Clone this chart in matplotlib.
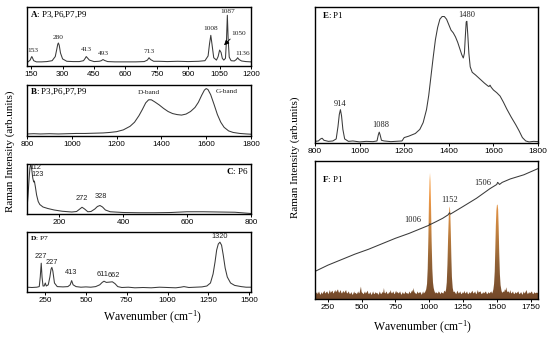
import numpy as np
import matplotlib
matplotlib.use("Agg")
import matplotlib.pyplot as plt
from matplotlib.colors import LinearSegmentedColormap

plt.rcParams['mathtext.fontset'] = 'custom'
plt.rcParams['mathtext.rm'] = 'Liberation Serif'
plt.rcParams['mathtext.bf'] = 'Liberation Serif:bold'
plt.rcParams['mathtext.it'] = 'Liberation Serif:italic'

SERIF = 'Liberation Serif'
SANS = 'Liberation Sans'

# ---------------- data ----------------
a_spec = [(135,0.07),(145,0.10),(150,0.14),(153,0.16),(156,0.14),(162,0.09),(175,0.07),(200,0.07),
          (225,0.075),(250,0.09),(265,0.16),(272,0.28),(277,0.37),(280,0.39),(284,0.35),(290,0.22),
          (300,0.12),(320,0.08),(350,0.075),(380,0.075),(400,0.09),(408,0.13),(413,0.16),(418,0.14),
          (428,0.10),(450,0.075),(475,0.08),(485,0.09),(493,0.11),(500,0.095),(515,0.075),(550,0.07),
          (600,0.07),(650,0.07),(690,0.075),(705,0.10),(713,0.14),(720,0.11),(735,0.08),(760,0.08),
          (800,0.075),(850,0.08),(900,0.075),(950,0.08),(980,0.09),(995,0.17),(1002,0.38),(1008,0.52),
          (1014,0.36),(1022,0.14),(1035,0.10),(1043,0.16),(1050,0.27),(1057,0.23),(1063,0.13),
          (1070,0.10),(1078,0.13),(1083,0.45),(1087,0.86),(1091,0.45),(1096,0.15),(1105,0.09),
          (1120,0.085),(1130,0.11),(1136,0.14),(1143,0.11),(1155,0.085),(1175,0.075),(1200,0.07)]
a_ticks = [150, 300, 450, 600, 750, 900, 1050, 1200]
a_labels = [("153",160,0.27),("280",280,0.48),("413",412,0.28),("493",495,0.22),("713",713,0.24),
            ("1008",1005,0.63),("1087",1089,0.93),("1136",1162,0.21)]

b_spec = [(800,0.04),(830,0.045),(860,0.04),(900,0.045),(940,0.04),(980,0.045),(1020,0.05),
          (1060,0.05),(1100,0.055),(1140,0.06),(1170,0.07),(1200,0.085),(1230,0.12),(1260,0.19),
          (1280,0.27),(1300,0.40),(1315,0.52),(1330,0.65),(1343,0.71),(1355,0.71),(1370,0.67),
          (1390,0.61),(1410,0.54),(1430,0.48),(1450,0.44),(1470,0.42),(1490,0.41),(1510,0.43),
          (1530,0.48),(1550,0.56),(1565,0.66),(1580,0.80),(1592,0.90),(1600,0.93),(1608,0.91),
          (1620,0.81),(1635,0.62),(1650,0.42),(1665,0.27),(1680,0.17),(1700,0.10),(1720,0.07),
          (1750,0.05),(1780,0.04),(1800,0.035)]
b_ticks = [800, 1000, 1200, 1400, 1600, 1800]
b_labels = [("D-band",1345,0.86),("G-band",1693,0.88)]

c_spec = [(100,0.12),(103,0.35),(106,0.65),(109,0.92),(112,1.0),(115,0.88),(118,0.72),(121,0.64),
          (123,0.66),(126,0.55),(130,0.38),(135,0.25),(140,0.19),(150,0.14),(165,0.11),(185,0.08),
          (210,0.055),(240,0.04),(255,0.05),(265,0.10),(272,0.135),(280,0.10),(290,0.045),
          (300,0.05),(312,0.10),(320,0.15),(328,0.17),(336,0.14),(345,0.08),(360,0.045),(400,0.03),
          (450,0.025),(500,0.025),(550,0.03),(600,0.045),(650,0.045),(700,0.04),(750,0.035),(800,0.01)]
c_ticks = [200, 400, 600, 800]
c_labels = [("112",126,0.93),("123",132,0.78),("272",272,0.32),("328",330,0.36)]

d_spec = [(140,0.08),(170,0.075),(200,0.08),(215,0.09),(221,0.25),(227,0.48),(232,0.25),(238,0.1),
          (245,0.1),(252,0.15),(258,0.1),(270,0.12),(280,0.25),(287,0.38),(292,0.41),(298,0.35),
          (308,0.15),(325,0.09),(360,0.085),(390,0.09),(404,0.12),(413,0.19),(422,0.12),(440,0.09),
          (470,0.08),(500,0.085),(530,0.08),(560,0.09),(585,0.12),(600,0.16),(611,0.18),(625,0.16),
          (645,0.165),(662,0.17),(678,0.14),(695,0.09),(720,0.075),(760,0.08),(800,0.07),(850,0.075),
          (900,0.07),(950,0.08),(1000,0.075),(1050,0.07),(1080,0.08),(1100,0.09),(1130,0.075),
          (1170,0.08),(1210,0.085),(1240,0.1),(1262,0.15),(1278,0.3),(1290,0.5),(1300,0.7),
          (1310,0.8),(1320,0.83),(1330,0.78),(1340,0.62),(1352,0.4),(1365,0.25),(1385,0.15),
          (1410,0.11),(1450,0.09),(1480,0.08),(1510,0.08)]
d_ticks = [250, 500, 750, 1000, 1250, 1500]
d_labels = [("227",225,0.59),("227",294,0.49),("413",409,0.33),("611",603,0.30),("662",673,0.28),
            ("1320",1320,0.93)]

e_spec = [(800,0.012),(815,0.015),(825,0.03),(832,0.035),(840,0.02),(860,0.012),(880,0.015),
          (895,0.03),(903,0.12),(909,0.21),(914,0.245),(919,0.2),(925,0.1),(933,0.03),(950,0.012),
          (970,0.015),(1000,0.008),(1030,0.012),(1060,0.01),(1078,0.015),(1084,0.06),(1088,0.08),
          (1092,0.06),(1098,0.02),(1110,0.015),(1140,0.01),(1170,0.013),(1190,0.015),(1200,0.04),
          (1220,0.05),(1250,0.07),(1270,0.1),(1285,0.15),(1300,0.245),(1310,0.35),(1320,0.49),
          (1330,0.63),(1340,0.76),(1350,0.85),(1360,0.91),(1370,0.93),(1380,0.93),(1390,0.91),
          (1400,0.87),(1410,0.83),(1420,0.81),(1430,0.78),(1440,0.74),(1450,0.69),(1458,0.65),
          (1465,0.625),(1470,0.66),(1474,0.78),(1478,0.89),(1481,0.895),(1485,0.8),(1490,0.66),
          (1496,0.56),(1505,0.52),(1520,0.5),(1540,0.47),(1560,0.44),(1575,0.42),(1580,0.415),
          (1585,0.425),(1590,0.41),(1600,0.39),(1615,0.37),(1630,0.345),(1645,0.3),(1660,0.25),
          (1680,0.19),(1700,0.135),(1715,0.09),(1730,0.04),(1745,0.015),(1760,0.008),(1780,0.012),
          (1800,0.01)]
e_ticks = [800, 1000, 1200, 1400, 1600, 1800]
e_labels = [("914",914,0.29),("1088",1096,0.135),("1480",1482,0.94)]

f_line = [(155,0.2),(250,0.245),(350,0.285),(450,0.325),(550,0.36),(650,0.4),(750,0.44),
          (850,0.475),(950,0.515),(1000,0.535),(1004,0.545),(1008,0.54),(1050,0.56),(1100,0.585),
          (1140,0.61),(1150,0.625),(1156,0.615),(1165,0.62),(1250,0.67),(1350,0.73),(1450,0.8),
          (1500,0.83),(1506,0.845),(1512,0.84),(1520,0.83),(1540,0.845),(1600,0.87),(1700,0.9),
          (1805,0.945)]
f_spec = [(155,.03),(160,.055),(165,.04),(170,.05),(175,.035),(185,.055),(190,.04),(195,.03),
          (205,.05),(210,.035),(215,.045),(225,.06),(230,.04),(235,.045),(245,.055),(255,.035),
          (260,.05),(265,.065),(270,.045),(275,.05),(285,.06),(290,.04),(295,.045),(305,.065),
          (310,.05),(315,.055),(325,.07),(330,.05),(335,.045),(345,.065),(350,.045),(355,.04),
          (365,.06),(370,.045),(375,.05),(385,.065),(390,.045),(395,.04),(405,.055),(410,.04),
          (415,.035),(425,.05),(430,.035),(435,.03),(445,.055),(450,.04),(455,.045),(465,.035),
          (475,.055),(480,.04),(485,.045),(495,.09),(500,.05),(505,.045),(515,.035),(525,.055),
          (530,.04),(535,.045),(545,.06),(550,.04),(555,.035),(565,.05),(570,.035),(575,.03),
          (585,.055),(590,.04),(595,.035),(605,.05),(610,.04),(615,.045),(625,.03),(635,.055),
          (640,.04),(645,.035),(655,.05),(660,.045),(665,.08),(670,.045),(675,.04),(685,.055),
          (690,.04),(695,.035),(705,.05),(710,.045),(715,.065),(720,.045),(725,.04),(735,.055),
          (740,.04),(745,.035),(755,.06),(760,.045),(765,.05),(775,.04),(785,.055),(790,.04),
          (795,.03),(805,.05),(810,.04),(815,.035),(825,.055),(830,.04),(835,.045),(845,.035),
          (855,.055),(860,.04),(865,.045),(875,.065),(880,.05),(885,.08),(890,.05),(895,.045),
          (905,.035),(915,.055),(920,.04),(925,.045),(935,.05),(940,.04),(945,.03),(955,.055),
          (960,.04),(965,.045),(972,.055),(978,.07),(984,.11),(989,.22),(994,.45),(998,.7),
          (1002,.86),(1006,.915),(1010,.85),(1014,.65),(1018,.42),(1023,.22),(1028,.12),(1033,.08),
          (1038,.06),(1045,.04),(1050,.05),(1055,.045),(1065,.04),(1070,.055),(1075,.05),
          (1085,.035),(1090,.05),(1095,.045),(1105,.04),(1110,.055),(1115,.06),(1120,.05),
          (1125,.07),(1130,.12),(1135,.25),(1140,.45),(1145,.6),(1149,.66),(1152,.67),(1156,.63),
          (1160,.48),(1164,.3),(1168,.16),(1174,.08),(1180,.05),(1185,.055),(1190,.05),
          (1200,.035),(1205,.05),(1210,.06),(1215,.045),(1220,.04),(1230,.055),(1235,.04),
          (1240,.035),(1250,.05),(1255,.04),(1260,.06),(1265,.045),(1270,.04),(1280,.055),
          (1285,.04),(1290,.035),(1300,.05),(1305,.04),(1310,.045),(1320,.06),(1325,.045),
          (1330,.04),(1340,.055),(1345,.04),(1350,.035),(1360,.065),(1365,.045),(1370,.05),
          (1380,.055),(1385,.04),(1390,.035),(1400,.05),(1405,.04),(1410,.045),(1420,.055),
          (1425,.04),(1430,.035),(1440,.05),(1445,.04),(1450,.045),(1460,.055),(1465,.04),
          (1470,.05),(1475,.07),(1480,.11),(1485,.2),(1489,.36),(1493,.53),(1497,.64),(1501,.68),
          (1506,.685),(1510,.65),(1514,.52),(1518,.34),(1523,.18),(1528,.1),(1535,.06),
          (1540,.045),(1550,.055),(1555,.05),(1560,.07),(1565,.06),(1570,.085),(1575,.06),
          (1580,.05),(1590,.055),(1595,.04),(1600,.065),(1605,.045),(1610,.04),(1620,.055),
          (1625,.04),(1630,.035),(1640,.05),(1645,.04),(1650,.045),(1660,.055),(1665,.04),
          (1670,.035),(1680,.05),(1685,.04),(1690,.03),(1700,.055),(1705,.04),(1710,.045),
          (1720,.065),(1725,.045),(1730,.035),(1740,.05),(1745,.04),(1750,.045),(1760,.055),
          (1765,.04),(1770,.035),(1780,.05),(1785,.04),(1790,.045),(1805,.045)]
f_ticks = [250, 500, 750, 1000, 1250, 1500, 1750]
f_labels = [("1006",875,0.575),("1152",1149,0.72),("1506",1393,0.84)]

# ---------------- figure ----------------
W, H = 550, 340
fig = plt.figure(figsize=(5.5, 3.4), dpi=100)
fig.patch.set_facecolor('white')

def px_axes(x0, y0, x1, y1):
    return fig.add_axes([x0 / W, 1 - y1 / H, (x1 - x0) / W, (y1 - y0) / H])

LINE = '#3a3a3a'

def style(ax, xlim, ticks, ylim=(0, 1), tfs=5.8):
    ax.set_xlim(*xlim)
    ax.set_ylim(*ylim)
    ax.set_xticks(ticks)
    ax.set_yticks([])
    ax.tick_params(axis='x', direction='out', length=2, width=0.7, pad=1.5, labelsize=tfs)
    for lab in ax.get_xticklabels():
        lab.set_family(SANS)
    for s in ax.spines.values():
        s.set_linewidth(1.0)
        s.set_color('black')

def plot_spec(ax, pts, lw=0.75):
    xs = [p[0] for p in pts]
    ys = [p[1] for p in pts]
    ax.plot(xs, ys, color=LINE, lw=lw)

def put_labels(ax, labs, family, size):
    for t, x, y in labs:
        ax.text(x, y, t, ha='center', va='center', family=family, fontsize=size, color='#222222')

# A
axA = px_axes(27, 7, 251, 66)
style(axA, (130, 1200), a_ticks)
plot_spec(axA, a_spec)
put_labels(axA, a_labels, SERIF, 5.3)
axA.annotate('', xy=(1062, 0.32), xytext=(1110, 0.49),
             arrowprops=dict(arrowstyle='-|>', color='black', lw=0.6, mutation_scale=7))
axA.text(1143, 0.55, "1050", ha='center', va='center', family=SERIF, fontsize=5.3, color='#222222')
axA.text(0.015, 0.86, r"$\mathbf{A}$: P3,P6,P7,P9", transform=axA.transAxes, family=SERIF,
         fontsize=6.5, ha='left', va='center')

# B
axB = px_axes(27, 85, 251, 136)
style(axB, (800, 1800), b_ticks)
plot_spec(axB, b_spec)
put_labels(axB, b_labels, SERIF, 5.3)
axB.text(0.015, 0.86, r"$\mathbf{B}$: P3,P6,P7,P9", transform=axB.transAxes, family=SERIF,
         fontsize=6.5, ha='left', va='center')

# C
axC = px_axes(27, 164, 251, 214)
style(axC, (100, 800), c_ticks)
plot_spec(axC, c_spec)
put_labels(axC, c_labels, SANS, 5.3)
axC.text(0.99, 0.86, r"$\mathbf{C}$: P6", transform=axC.transAxes, family=SERIF,
         fontsize=6.5, ha='right', va='center')

# D
axD = px_axes(27, 232, 251, 292)
style(axD, (140, 1510), d_ticks)
plot_spec(axD, d_spec)
put_labels(axD, d_labels, SANS, 5.3)
axD.text(0.015, 0.9, r"$\mathbf{D}$: P7", transform=axD.transAxes, family=SERIF,
         fontsize=5.3, ha='left', va='center')

# E
axE = px_axes(315, 7, 538, 143)
style(axE, (800, 1800), e_ticks, tfs=6)
plot_spec(axE, e_spec)
put_labels(axE, e_labels, SERIF, 6)
axE.text(0.03, 0.94, r"$\mathbf{E}$: P1", transform=axE.transAxes, family=SERIF,
         fontsize=6.5, ha='left', va='center')

# F
axF = px_axes(315, 161, 538, 299)
style(axF, (155, 1805), f_ticks, tfs=6)
fx = [p[0] for p in f_spec]
fy = [p[1] for p in f_spec]
poly = axF.fill_between(fx, 0, fy, color='none', lw=0)
cmap = LinearSegmentedColormap.from_list('rust', ['#74492a', '#8f6136', '#c4823f', '#f09a48', '#fbc27e'])
grad = np.linspace(0, 1, 256).reshape(-1, 1)
im = axF.imshow(grad, extent=(155, 1805, 0, 1), origin='lower', aspect='auto', cmap=cmap,
                vmin=0, vmax=1, zorder=1)
im.set_clip_path(poly.get_paths()[0], transform=axF.transData)
axF.set_xlim(155, 1805)
axF.set_ylim(0, 1)
plot_spec(axF, f_line)
put_labels(axF, f_labels, SERIF, 6)
axF.text(0.03, 0.87, r"$\mathbf{F}$: P1", transform=axF.transAxes, family=SERIF,
         fontsize=6.5, ha='left', va='center')

# axis labels
fig.text(10 / W, 1 - 151 / H, "Raman Intensity (arb.units)", rotation=90, ha='center', va='center',
         family=SERIF, fontsize=8)
fig.text(295 / W, 1 - 157 / H, "Raman Intensity (arb.units)", rotation=90, ha='center', va='center',
         family=SERIF, fontsize=8)
fig.text(152 / W, 1 - 317 / H, r"Wavenumber (cm$^{-1}$)", ha='center', va='center',
         family=SERIF, fontsize=8.5)
fig.text(422 / W, 1 - 327 / H, r"Wavenumber (cm$^{-1}$)", ha='center', va='center',
         family=SERIF, fontsize=8.5)

fig.savefig('out.png', dpi=100)
